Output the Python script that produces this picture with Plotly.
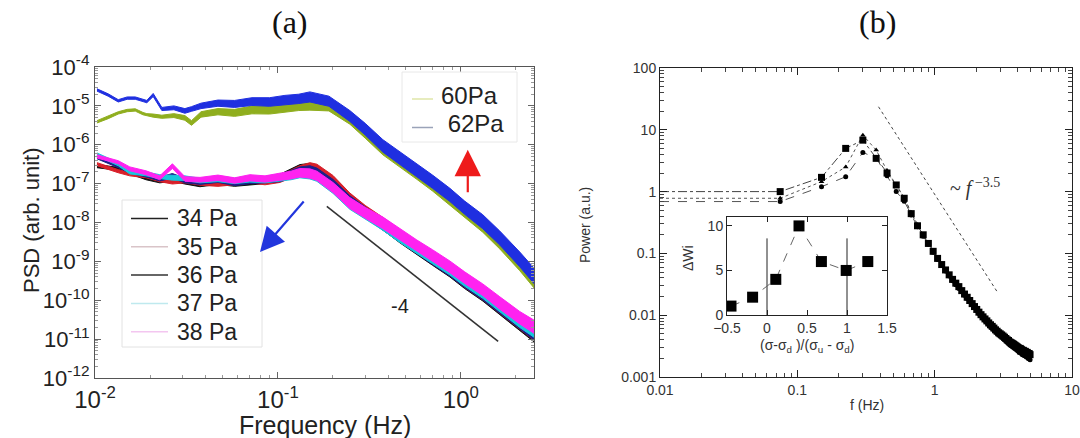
import plotly.graph_objects as go

W, H = 1080, 438

# ---------------- Panel (a) data (log10 PSD) ----------------
f_hi = [0.01025, 0.0118, 0.0134, 0.015, 0.0166, 0.0183, 0.0192, 0.0208, 0.0232, 0.027, 0.031,
        0.0337, 0.038, 0.047, 0.058, 0.0721, 0.09, 0.1092, 0.13, 0.1496, 0.19, 0.2472, 0.3,
        0.375, 0.46, 0.575, 0.7, 0.871, 1.05, 1.318, 1.633, 2.1, 2.51]
log_psd_62 = [-4.59, -4.72, -4.87, -4.80, -4.80, -4.86, -4.89, -4.72, -5.08, -5.05, -5.13, -5.08,
              -5.00, -4.93, -4.95, -4.89, -4.90, -4.85, -4.82, -4.77, -4.88, -5.26, -5.60, -6.03,
              -6.33, -6.65, -6.95, -7.29, -7.62, -7.98, -8.40, -8.95, -9.37]
log_psd_60 = [-5.41, -5.30, -5.18, -5.12, -5.105, -5.20, -5.23, -5.25, -5.28, -5.25, -5.31, -5.44,
              -5.22, -5.15, -5.18, -5.105, -5.10, -5.05, -5.00, -4.98, -5.00, -5.33, -5.68, -6.10,
              -6.40, -6.72, -7.02, -7.37, -7.70, -8.07, -8.50, -9.05, -9.48]
spread_hi = [0.03, 0.03, 0.03, 0.03, 0.03, 0.03, 0.03, 0.04, 0.04, 0.05, 0.06, 0.06, 0.07, 0.08,
             0.09, 0.10, 0.11, 0.12, 0.12, 0.13, 0.13, 0.14, 0.15, 0.16, 0.16, 0.17, 0.17, 0.17,
             0.17, 0.18, 0.18, 0.19, 0.20]

f_lo = [0.01025, 0.0134, 0.0155, 0.019, 0.0226, 0.0265, 0.031, 0.0375, 0.047, 0.058, 0.0703,
        0.085, 0.1026, 0.118, 0.1318, 0.1496, 0.1633, 0.2, 0.2472, 0.3, 0.375, 0.46, 0.575, 0.7,
        0.871, 1.05, 1.318, 1.633, 2.1, 2.51]
log_psd_34 = [-6.55, -6.62, -6.70, -6.85, -6.93, -6.88, -6.95, -7.02, -6.95, -7.00, -6.95, -6.92,
              -6.85, -6.72, -6.62, -6.60, -6.65, -6.95, -7.40, -7.72, -8.04, -8.36, -8.68, -8.95,
              -9.25, -9.55, -9.87, -10.22, -10.62, -10.90]
log_psd_35 = [-6.50, -6.68, -6.75, -6.80, -6.90, -6.95, -6.92, -6.98, -7.00, -6.96, -6.90, -6.95,
              -6.88, -6.75, -6.65, -6.58, -6.62, -6.92, -7.38, -7.70, -8.02, -8.33, -8.65, -8.92,
              -9.22, -9.52, -9.84, -10.18, -10.58, -10.86]
log_psd_36 = [-6.32, -6.55, -6.68, -6.78, -6.88, -6.80, -6.92, -6.96, -6.90, -6.98, -6.92, -6.90,
              -6.86, -6.76, -6.68, -6.66, -6.72, -7.02, -7.45, -7.74, -8.05, -8.34, -8.66, -8.93,
              -9.23, -9.52, -9.84, -10.18, -10.58, -10.85]
log_psd_37 = [-6.25, -6.50, -6.70, -6.75, -6.82, -6.85, -6.86, -6.92, -6.88, -6.93, -6.88, -6.90,
              -6.84, -6.80, -6.74, -6.76, -6.82, -7.12, -7.52, -7.78, -8.05, -8.35, -8.65, -8.91,
              -9.20, -9.49, -9.80, -10.14, -10.54, -10.78]
log_psd_38 = [-6.30, -6.45, -6.62, -6.72, -6.85, -6.55, -6.88, -6.90, -6.85, -6.92, -6.85, -6.88,
              -6.82, -6.78, -6.72, -6.74, -6.80, -7.10, -7.50, -7.75, -8.01, -8.30, -8.60, -8.85,
              -9.14, -9.42, -9.73, -10.07, -10.45, -10.68]
spread_lo = [0.04, 0.04, 0.05, 0.05, 0.05, 0.06, 0.06, 0.06, 0.07, 0.07, 0.08, 0.08, 0.09, 0.10,
             0.11, 0.12, 0.12, 0.13, 0.14, 0.14, 0.15, 0.15, 0.15, 0.15, 0.15, 0.15, 0.15, 0.16,
             0.16, 0.17]

legend_low_names = ["34 Pa", "35 Pa", "36 Pa", "37 Pa", "38 Pa"]
legend_high_names = ["60Pa", " 62Pa"]

slope_line_f = [0.185, 1.60]
slope_line_psd = [2.6e-8, 8.7e-12]

# ---------------- Panel (b) data ----------------
f_b = [0.075, 0.15, 0.225, 0.3, 0.375, 0.45, 0.525, 0.6, 0.675, 0.75,
       0.825, 0.9, 0.975, 1.05, 1.125, 1.2, 1.275, 1.35, 1.425, 1.5,
       1.575, 1.65, 1.725, 1.8, 1.875, 1.95, 2.025, 2.1, 2.175, 2.25,
       2.325, 2.4, 2.475, 2.55, 2.625, 2.7, 2.775, 2.85, 2.925, 3.0,
       3.075, 3.15, 3.225, 3.3, 3.375, 3.45, 3.525, 3.6, 3.675, 3.75,
       3.825, 3.9, 3.975, 4.05, 4.125, 4.2, 4.275, 4.35, 4.425, 4.5,
       4.575, 4.65, 4.725, 4.8, 4.875, 4.95]
power_sq = [1.0, 1.7, 5.0, 6.8, 3.45, 2.0, 1.28, 0.78, 0.44, 0.28,
            0.2, 0.145, 0.108, 0.083, 0.066, 0.054, 0.045, 0.038, 0.033, 0.029,
            0.025, 0.022, 0.0195, 0.0173, 0.0154, 0.0138, 0.0124, 0.0112, 0.0102, 0.0094,
            0.0087, 0.0081, 0.0075, 0.0070, 0.0066, 0.0062, 0.0058, 0.0055, 0.0052, 0.0050,
            0.0048, 0.0046, 0.0044, 0.0042, 0.0040, 0.0039, 0.0037, 0.0036, 0.0035, 0.0034,
            0.0033, 0.0032, 0.0031, 0.0030, 0.0029, 0.0029, 0.0028, 0.0027, 0.0027, 0.0026,
            0.0026, 0.0025, 0.0025, 0.0024, 0.0024, 0.0023]
power_tri = [0.78, 1.45, 2.5, 8.2, 4.7, 2.2, 1.3, 0.8, 0.46, 0.29, 0.2, 0.148, 0.11]
power_circ = [0.69, 1.2, 1.74, 4.3, 3.5, 1.8, 1.0, 0.7, 0.42, 0.27,
              0.19, 0.14, 0.104, 0.08, 0.064, 0.052, 0.043, 0.036, 0.031, 0.027,
              0.024, 0.021, 0.0186, 0.0165, 0.0147, 0.0132, 0.0118, 0.0107, 0.0097, 0.0089,
              0.0082, 0.0076, 0.0070, 0.0065, 0.0061, 0.0057, 0.0054, 0.0051, 0.0048, 0.0046,
              0.0044, 0.0042, 0.0040, 0.0038, 0.0036, 0.0035, 0.0033, 0.0032, 0.0031, 0.0030,
              0.0029, 0.0028, 0.0027, 0.0026, 0.0025, 0.0025, 0.0024, 0.0023, 0.0023, 0.0022,
              0.0022, 0.0021, 0.0021, 0.0020, 0.0020, 0.0019]
f_low_limit = 0.01
powerlaw_f = [0.39, 2.85]
powerlaw_p = [23.6, 0.024]

inset_x = [-0.45, -0.18, 0.11, 0.40, 0.68, 0.99, 1.26]
inset_dwi = [1, 2, 4, 10, 6, 5, 6]
inset_vline_x = [0, 1]
inset_vline_range = [0, 8.6]

# ---------------- figure ----------------
fig = go.Figure()


def band(f, logc, spread, color, name):
    up = [10 ** (c + s) for c, s in zip(logc, spread)]
    lo = [10 ** (c - s) for c, s in zip(logc, spread)]
    fig.add_trace(go.Scatter(x=f + f[::-1], y=up + lo[::-1], fill="toself", fillcolor=color,
                             mode="lines", line=dict(color=color, width=1), showlegend=False,
                             xaxis="x", yaxis="y", hoverinfo="skip", name=name))


band(f_hi, log_psd_60, spread_hi, "#8fae1e", "60Pa")
band(f_hi, log_psd_62, spread_hi, "#1f2fe0", "62Pa")
band(f_lo, log_psd_34, spread_lo, "#111111", "34 Pa")
band(f_lo, log_psd_35, spread_lo, "#d8202a", "35 Pa")
band(f_lo, log_psd_36, spread_lo, "#1b1f8a", "36 Pa")
band(f_lo, log_psd_37, spread_lo, "#18c6dc", "37 Pa")
band(f_lo, log_psd_38, spread_lo, "#ff22f0", "38 Pa")

fig.add_trace(go.Scatter(x=slope_line_f, y=slope_line_psd, mode="lines",
                         line=dict(color="#333333", width=1.6), showlegend=False,
                         xaxis="x", yaxis="y"))

# ---------------- Panel (b) ----------------
fig.add_trace(go.Scatter(x=[f_low_limit] + f_b[:len(power_circ)], y=[power_circ[0]] + power_circ,
                         mode="lines", line=dict(color="#555", width=1, dash="dash"),
                         showlegend=False, xaxis="x2", yaxis="y2"))
fig.add_trace(go.Scatter(x=[f_low_limit] + f_b[:len(power_tri)], y=[power_tri[0]] + power_tri,
                         mode="lines", line=dict(color="#555", width=1, dash="dot"),
                         showlegend=False, xaxis="x2", yaxis="y2"))
fig.add_trace(go.Scatter(x=[f_low_limit] + f_b, y=[power_sq[0]] + power_sq,
                         mode="lines", line=dict(color="#444", width=1, dash="dashdot"),
                         showlegend=False, xaxis="x2", yaxis="y2"))
fig.add_trace(go.Scatter(x=f_b[:len(power_circ)], y=power_circ, mode="markers",
                         marker=dict(symbol="circle", size=5, color="black"),
                         showlegend=False, xaxis="x2", yaxis="y2"))
fig.add_trace(go.Scatter(x=f_b[:len(power_tri)], y=power_tri, mode="markers",
                         marker=dict(symbol="triangle-up", size=5, color="black"),
                         showlegend=False, xaxis="x2", yaxis="y2"))
fig.add_trace(go.Scatter(x=f_b, y=power_sq, mode="markers",
                         marker=dict(symbol="square", size=7, color="black"),
                         showlegend=False, xaxis="x2", yaxis="y2"))
fig.add_trace(go.Scatter(x=powerlaw_f, y=powerlaw_p, mode="lines",
                         line=dict(color="#444", width=1, dash="dot"),
                         showlegend=False, xaxis="x2", yaxis="y2"))

# inset
for vx in inset_vline_x:
    fig.add_trace(go.Scatter(x=[vx, vx], y=inset_vline_range, mode="lines",
                             line=dict(color="#222", width=1), showlegend=False,
                             xaxis="x3", yaxis="y3"))
fig.add_trace(go.Scatter(x=inset_x, y=inset_dwi, mode="lines+markers",
                         line=dict(color="#666", width=1, dash="dash"),
                         marker=dict(symbol="square", size=11, color="black"),
                         showlegend=False, xaxis="x3", yaxis="y3"))

SANS = "Liberation Sans, Arial, sans-serif"
SERIF = "Liberation Serif, Times New Roman, serif"


def px(x):
    return x / W


def py(y):
    return 1 - y / H


fig.update_layout(
    width=W, height=H, margin=dict(l=0, r=0, t=0, b=0, autoexpand=False),
    paper_bgcolor="white", plot_bgcolor="white", showlegend=False,
    font=dict(family=SANS, color="#222"),
    xaxis=dict(type="log", range=[-2, 0.4], domain=[px(95), px(534)], anchor="y",
               tickmode="array", tickvals=[0.01, 0.1, 1],
               ticktext=["10<sup>-2</sup>", "10<sup>-1</sup>", "10<sup>0</sup>"],
               showgrid=False, zeroline=False,
               showline=True, linecolor="#555", linewidth=1.2, mirror="ticks",
               ticks="inside", ticklen=6, tickcolor="#666",
               minor=dict(ticks="inside", ticklen=3, dtick="D1", tickcolor="#999"),
               tickfont=dict(size=24, family=SANS, color="#222")),
    yaxis=dict(type="log", range=[-12, -4], domain=[py(378), py(67)], anchor="x",
               tickmode="array",
               tickvals=[1e-12, 1e-11, 1e-10, 1e-9, 1e-8, 1e-7, 1e-6, 1e-5, 1e-4],
               ticktext=["10<sup>-12</sup>", "10<sup>-11</sup>", "10<sup>-10</sup>",
                         "10<sup>-9</sup>", "10<sup>-8</sup>", "10<sup>-7</sup>",
                         "10<sup>-6</sup>", "10<sup>-5</sup>", "10<sup>-4</sup>"],
               showgrid=False, zeroline=False,
               showline=True, linecolor="#555", linewidth=1.2, mirror="ticks",
               ticks="inside", ticklen=6, tickcolor="#666",
               minor=dict(ticks="inside", ticklen=3, dtick="D1", tickcolor="#999"),
               tickfont=dict(size=22, family=SANS, color="#222")),
    xaxis2=dict(type="log", range=[-2, 1], domain=[px(660), px(1072)], anchor="y2",
                dtick=1, showgrid=False, zeroline=False,
                showline=True, linecolor="#222", linewidth=1, mirror="ticks",
                ticks="inside", ticklen=7, tickcolor="#222",
                minor=dict(ticks="inside", ticklen=4, dtick="D1", tickcolor="#444"),
                tickfont=dict(size=14, family=SANS, color="#333")),
    yaxis2=dict(type="log", range=[-3, 2], domain=[py(377), py(68)], anchor="x2",
                dtick=1, showgrid=False, zeroline=False,
                showline=True, linecolor="#222", linewidth=1, mirror="ticks",
                ticks="inside", ticklen=7, tickcolor="#222",
                minor=dict(ticks="inside", ticklen=4, dtick="D1", tickcolor="#444"),
                tickfont=dict(size=14, family=SANS, color="#333")),
    xaxis3=dict(range=[-0.5, 1.5], domain=[px(727), px(887)], anchor="y3",
                tickvals=[-0.5, 0, 0.5, 1, 1.5], showgrid=False, zeroline=False,
                showline=True, linecolor="#222", linewidth=1, mirror="ticks",
                ticks="inside", ticklen=5, tickcolor="#222",
                tickfont=dict(size=14, family=SANS, color="#333")),
    yaxis3=dict(range=[0, 11], domain=[py(315), py(217)], anchor="x3",
                tickvals=[0, 5, 10], showgrid=False, zeroline=False,
                showline=True, linecolor="#222", linewidth=1, mirror="ticks",
                ticks="inside", ticklen=5, tickcolor="#222",
                tickfont=dict(size=14, family=SANS, color="#333")),
)

ann = [
    dict(text="(a)", x=px(290), y=py(22), font=dict(family=SERIF, size=32, color="#111")),
    dict(text="(b)", x=px(877), y=py(22), font=dict(family=SERIF, size=32, color="#111")),
    dict(text="PSD (arb. unit)", x=px(31), y=py(220), textangle=-90,
         font=dict(size=22, color="#222")),
    dict(text="Frequency (Hz)", x=px(325), y=py(425), font=dict(size=25, color="#222")),
    dict(text="Power (a.u.)", x=px(585), y=py(225), textangle=-90,
         font=dict(size=14, color="#333")),
    dict(text="f (Hz)", x=px(867), y=py(405), font=dict(size=14, color="#333")),
    dict(text="~ <i>f</i><sup> −3.5</sup>", x=px(975), y=py(187),
         font=dict(family=SERIF, size=20, color="#333")),
    dict(text="(σ-σ<sub>d</sub> )/(σ<sub>u</sub> - σ<sub>d</sub>)", x=px(807), y=py(346),
         font=dict(size=14, color="#333")),
    dict(text="ΔWi", x=px(688), y=py(258), textangle=-90, font=dict(size=14, color="#333")),
]
for a in ann:
    a.update(xref="paper", yref="paper", showarrow=False, xanchor="center", yanchor="middle")
    fig.add_annotation(**a)

# manual legends (faint line samples as in the picture)
shapes = []
leg_low_colors = ["#222222", "#d9c4c8", "#333333", "#bfe9ee", "#f3c6f0"]
shapes.append(dict(type="rect", xref="paper", yref="paper", x0=px(122), x1=px(262),
                   y0=py(347), y1=py(200), line=dict(color="#e2e2e2", width=1),
                   fillcolor="white", layer="above"))
for i, (nm, c) in enumerate(zip(legend_low_names, leg_low_colors)):
    yy = 218.5 + i * 28.3
    shapes.append(dict(type="line", xref="paper", yref="paper", x0=px(131), x1=px(168),
                       y0=py(yy), y1=py(yy), line=dict(color=c, width=1.5), layer="above"))
    fig.add_annotation(text=nm, x=px(175), y=py(yy), xref="paper", yref="paper",
                       showarrow=False, xanchor="left", yanchor="middle",
                       font=dict(size=23, color="#222"))
leg_high_colors = ["#dfe6a8", "#9aa3b8"]
shapes.append(dict(type="rect", xref="paper", yref="paper", x0=px(402), x1=px(517),
                   y0=py(142), y1=py(72), line=dict(color="#e8e8e8", width=1),
                   fillcolor="white", layer="above"))
for i, (nm, c) in enumerate(zip(legend_high_names, leg_high_colors)):
    yy = 95 + i * 28.5
    shapes.append(dict(type="line", xref="paper", yref="paper", x0=px(412), x1=px(433),
                       y0=py(yy + 4), y1=py(yy + 4), line=dict(color=c, width=1.5),
                       layer="above"))
    fig.add_annotation(text=nm, x=px(439), y=py(yy), xref="paper", yref="paper",
                       showarrow=False, xanchor="left", yanchor="middle",
                       font=dict(size=24, color="#222"))
fig.update_layout(shapes=shapes)

fig.add_annotation(text="-4", x=-0.333, y=-10.16, xref="x", yref="y", showarrow=False,
                   font=dict(size=20, color="#222"))
# arrows
fig.add_annotation(text="", x=-1.098, y=-8.76, xref="x", yref="y", showarrow=True,
                   ax=45, ay=-52, arrowhead=2, arrowsize=2.2, arrowwidth=2.2,
                   arrowcolor="#2236dd")
fig.add_annotation(text="", x=0.038, y=-6.13, xref="x", yref="y", showarrow=True,
                   ax=0, ay=44, arrowhead=2, arrowsize=2.4, arrowwidth=2.2,
                   arrowcolor="#ee1b1b")

fig.write_html("out.html", config={"displayModeBar": False},
               post_script="document.body.style.margin='0px';"
                           "document.body.style.overflow='hidden';")
